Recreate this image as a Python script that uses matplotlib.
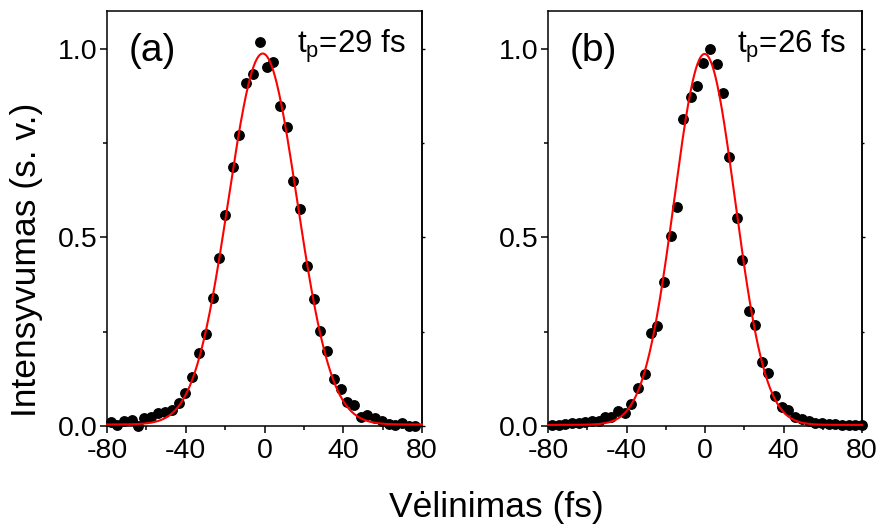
import matplotlib
matplotlib.use("Agg")
import matplotlib.pyplot as plt
import numpy as np
from matplotlib.ticker import MultipleLocator, FormatStrFormatter, NullFormatter

plt.rcParams['font.family'] = ['Liberation Sans', 'DejaVu Sans']
plt.rcParams['axes.unicode_minus'] = False

# panel (a) measured points
delay_a = [-78.0, -74.8, -71.2, -67.5, -64.1, -61.0, -57.6, -54.1, -50.5, -47.0,
           -43.6, -40.2, -36.7, -33.4, -29.7, -26.4, -23.0, -19.9, -16.2, -12.8,
           -9.4, -6.0, -2.3, 1.1, 4.5, 7.9, 11.3, 14.6, 18.0, 21.4,
           25.2, 28.2, 31.9, 35.3, 38.7, 42.1, 45.5, 49.2, 52.2, 56.3,
           59.7, 63.1, 66.5, 69.9, 73.2, 76.6]
int_a = [0.011, 0.003, 0.012, 0.016, 0.0, 0.021, 0.024, 0.034, 0.036, 0.042,
         0.060, 0.087, 0.129, 0.193, 0.245, 0.340, 0.446, 0.560, 0.688, 0.772,
         0.909, 0.934, 1.019, 0.953, 0.966, 0.849, 0.792, 0.649, 0.575, 0.424,
         0.337, 0.251, 0.199, 0.125, 0.098, 0.064, 0.056, 0.023, 0.029, 0.020,
         0.013, 0.005, 0.003, 0.009, 0.001, 0.0]

# panel (b) measured points
delay_b = [-78.0, -74.5, -71.2, -67.8, -64.4, -61.0, -57.6, -54.2, -50.8, -47.7,
           -44.3, -40.9, -37.5, -34.1, -30.7, -27.4, -24.3, -20.9, -17.5, -14.4,
           -11.0, -7.3, -3.9, -0.9, 2.55, 5.97, 9.0, 12.4, 16.2, 18.9,
           22.3, 25.6, 29.1, 32.1, 35.8, 39.2, 42.3, 46.0, 49.4, 52.8,
           56.2, 59.6, 63.0, 66.4, 69.8, 73.2, 76.6, 79.9]
int_b = [0.003, 0.003, 0.005, 0.007, 0.009, 0.011, 0.014, 0.014, 0.023, 0.023,
         0.041, 0.035, 0.058, 0.101, 0.137, 0.247, 0.265, 0.383, 0.504, 0.582,
         0.815, 0.872, 0.903, 0.962, 0.999, 0.959, 0.882, 0.714, 0.553, 0.439,
         0.305, 0.268, 0.169, 0.141, 0.080, 0.050, 0.042, 0.025, 0.018, 0.014,
         0.009, 0.009, 0.005, 0.005, 0.003, 0.003, 0.003, 0.002]

# gaussian fit parameters: amplitude, centre, FWHM, offset
fit_a = (0.984, -0.9, 41.0, 0.004)
fit_b = (0.984, -0.2, 36.5, 0.003)

labels = ["(a)", "(b)"]
tp_texts = ["29", "26"]


def gauss(t, amp, t0, fwhm, y0):
    s = fwhm / 2.3548
    return y0 + amp * np.exp(-(t - t0)**2 / (2 * s**2))


fig = plt.figure(figsize=(8.8, 5.32), dpi=100)
ax1 = fig.add_axes([107/880, 1 - 426/532, 315/880, 414.7/532])
ax2 = fig.add_axes([548/880, 1 - 426/532, 314/880, 414.7/532])

tt = np.linspace(-80, 80, 400)
for ax, xd, yd, fp, lab, tp in zip([ax1, ax2], [delay_a, delay_b], [int_a, int_b],
                                   [fit_a, fit_b], labels, tp_texts):
    ax.plot(xd, yd, 'o', color='black', ms=6.8, clip_on=False, zorder=2)
    ax.plot(tt, gauss(tt, *fp), color='red', lw=1.5, zorder=3, clip_on=False)
    ax.set_xlim(-80, 80)
    ax.set_ylim(0, 1.1)
    ax.xaxis.set_major_locator(MultipleLocator(40))
    ax.xaxis.set_minor_locator(MultipleLocator(20))
    ax.yaxis.set_major_locator(MultipleLocator(0.5))
    ax.yaxis.set_minor_locator(MultipleLocator(0.25))
    ax.yaxis.set_major_formatter(FormatStrFormatter('%.1f'))
    ax.tick_params(which='major', direction='out', length=5, width=1.1, labelsize=20.5)
    ax.tick_params(which='minor', direction='out', length=3, width=1.1)
    ax.tick_params(axis='y', which='major', pad=2)
    for sp in ax.spines.values():
        sp.set_linewidth(1.1)

    # short ticks on the right frame
    sec = ax.secondary_yaxis('right')
    sec.yaxis.set_major_locator(MultipleLocator(0.5))
    sec.yaxis.set_minor_locator(MultipleLocator(0.25))
    sec.yaxis.set_major_formatter(NullFormatter())
    sec.tick_params(which='major', direction='out', length=2.5, width=1.0)
    sec.tick_params(which='minor', direction='out', length=1.5, width=1.0)
    sec.spines['right'].set_linewidth(1.1)

    ax.text(0.143, 0.905, lab, transform=ax.transAxes, fontsize=28,
            ha='center', va='center')
    ax.text(0.775, 0.915, r"t$_\mathregular{p}$=" + tp + " fs", transform=ax.transAxes,
            fontsize=22.5, ha='center', va='center')

fig.text(27/880, 1 - 260/532, "Intensyvumas (s. v.)", rotation=90,
         fontsize=25.5, ha='center', va='center')
fig.text(496/880, 1 - 517/532, "Vėlinimas (fs)", fontsize=25.5,
         ha='center', va='baseline')

plt.savefig('out.png', dpi=100)
